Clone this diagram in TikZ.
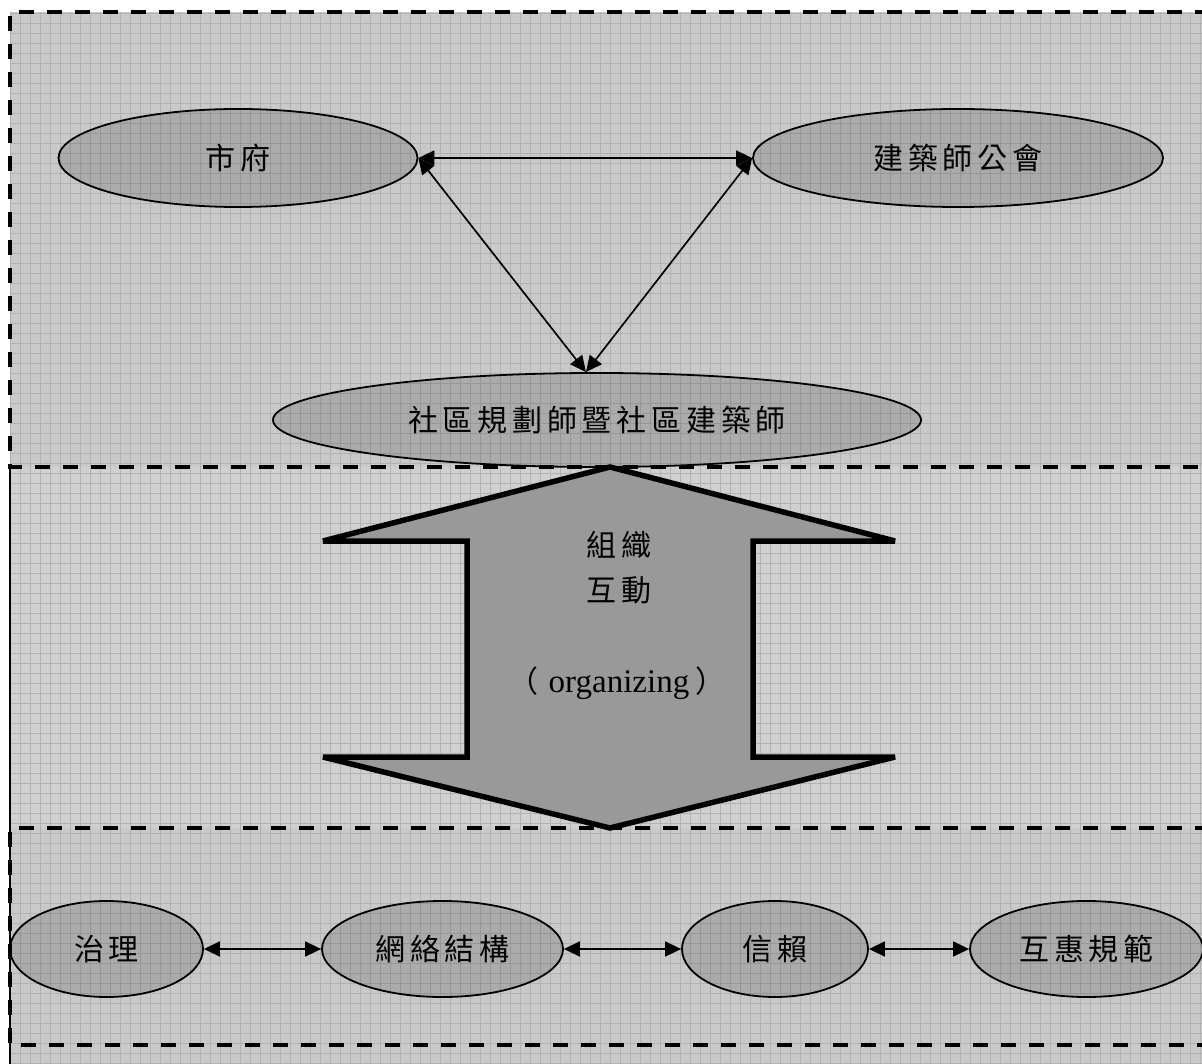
\documentclass[tikz,border=0pt]{standalone}
\usepackage{fontspec}
\setmainfont{Liberation Serif}
\newfontfamily\cjk[LetterSpace=16]{Noto Sans CJK TC}
\newfontfamily\cjkplain{Noto Sans CJK TC}
\usetikzlibrary{arrows.meta,shapes.geometric}
\definecolor{bgtop}{HTML}{C9C9C9}
\definecolor{bgmid}{HTML}{D0D0D0}
\definecolor{gridc}{HTML}{B2B2B2}
\definecolor{arrowfill}{HTML}{999999}
\tikzset{
  gridline/.style={draw=gridc, line width=0.8pt},
  sectionline/.style={draw=black, line width=3.5pt, dash pattern=on 15pt off 13pt},
  ell/.style={ellipse, draw=black, line width=1.8pt, fill=black, fill opacity=0.15,
    text opacity=1, inner sep=0pt, font=\cjk\fontsize{30}{32}\selectfont},
  conn/.style={{Triangle[length=16pt,width=15pt]}-{Triangle[length=16pt,width=15pt]}, line width=1.7pt, draw=black},
  bigarrow/.style={draw=black, fill=arrowfill, line width=5.5pt, line join=miter, miter limit=1.5},
  arrowtext/.style={inner sep=0pt, font=\cjk\fontsize{30}{32}\selectfont}
}
\begin{document}
\begin{tikzpicture}[x=1pt,y=-1pt]
\useasboundingbox (0,0) rectangle (1202,1064);
\fill[white] (0,0) rectangle (1202,1064);
\fill[bgtop] (10,12) rectangle (1202,1064);
\fill[bgmid] (10,467) rectangle (1202,828);
% grid
\foreach \i in {0,...,119} \draw[gridline] ({10.7+10*\i},12) -- ({10.7+10*\i},1064);
\foreach \j in {0,...,105} \draw[gridline] (10,{13+10*\j}) -- (1202,{13+10*\j});
% left thin border
\draw[black, line width=1.5pt] (10,467) -- (10,1064);
% section borders
\draw[sectionline] (1210,12) -- (10,12) -- (10,467) -- (1210,467);
\draw[sectionline] (1210,828) -- (10,828) -- (10,1045) -- (1210,1045);
% big double arrow
\draw[bigarrow] (610,467) -- (323,541) -- (467,541) -- (467,757) -- (323,757) -- (610,828)
  -- (895,757) -- (753,757) -- (753,541) -- (895,541) -- cycle;
\node[arrowtext] (zz) at (619,545) {組織};
\node[arrowtext] (hd) at (619,590) {互動};
\node[inner sep=0pt, font=\fontsize{33}{36}\selectfont] (org) at (617,683)
  {{\cjkplain\fontsize{30}{32}\selectfont （}\hspace{10pt}organizing\hspace{6pt}{\cjkplain\fontsize{30}{32}\selectfont ）}};
% top ellipses
\node[ell, minimum width=359pt, minimum height=98pt] (shifu) at (238,158) {市府};
\node[ell, minimum width=410pt, minimum height=98pt] (jzs) at (958,158) {建築師公會};
\node[ell, minimum width=648pt, minimum height=94pt] (sq) at (597,420) {社區規劃師暨社區建築師};
% bottom ellipses
\node[ell, minimum width=193pt, minimum height=96pt] (zl) at (106.5,949) {治理};
\node[ell, minimum width=241pt, minimum height=96pt] (wl) at (442.5,949) {網絡結構};
\node[ell, minimum width=186pt, minimum height=96pt] (xl) at (775,949) {信賴};
\node[ell, minimum width=233pt, minimum height=96pt] (hh) at (1086.5,949) {互惠規範};
% connectors
\draw[conn] (shifu.east) -- (jzs.west);
\draw[conn] (shifu.east) -- ([xshift=-11pt]sq.north);
\draw[conn] (jzs.west) -- ([xshift=-11pt]sq.north);
\draw[conn] (zl.east) -- (wl.west);
\draw[conn] (wl.east) -- (xl.west);
\draw[conn] (xl.east) -- (hh.west);
\end{tikzpicture}
\end{document}
